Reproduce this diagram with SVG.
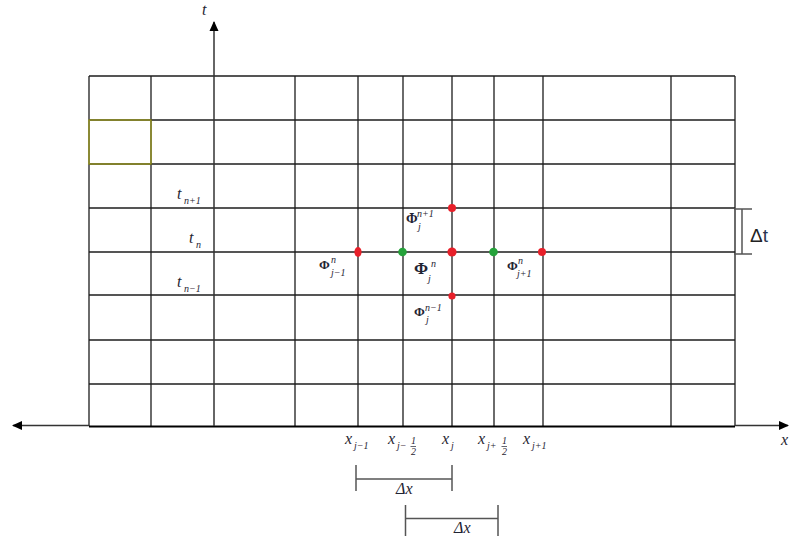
<svg xmlns="http://www.w3.org/2000/svg" width="789" height="543" viewBox="0 0 789 543">
<style>
.g{stroke:#1e1e1e;stroke-width:1.3;fill:none}
.ax{stroke:#333;stroke-width:1.5;fill:none}
.br{stroke:#555;stroke-width:1.5;fill:none}
.m{font-family:"Liberation Serif","DejaVu Serif",serif;font-style:italic;fill:#1f2433}
.mb{font-family:"Liberation Serif","DejaVu Serif",serif;font-weight:bold;fill:#1f2433}
.s{font-family:"Liberation Serif","DejaVu Serif",serif;font-style:italic;fill:#1f2433;font-size:10px}
.r{fill:#e8202a}
.gr{fill:#25a23a}
</style>
<defs>
<marker id="ah" markerWidth="10" markerHeight="10" refX="9" refY="5" orient="auto" markerUnits="userSpaceOnUse">
<path d="M0,0.5 L10,5 L0,9.5 Z" fill="#000"/>
</marker>
</defs>
<g id="grid">
<path class="g" d="M89,76H735M89,120H735M89,164H735M89,208H735M89,252H735M89,295H735M89,340H735M89,384H735"/>
<path class="g" d="M89,76V426M151,76V426M295,76V426M358,76V426M403,76V426M452,76V426M494,76V426M543,76V426M671,76V426M735,76V426"/>
<rect x="89" y="120" width="62" height="44" fill="none" stroke="#9c9a1a" stroke-width="1.3"/>
<path d="M89,426.5H735" stroke="#000" stroke-width="2"/>
</g>
<g id="connectors">
<path class="ax" d="M214,426V22" marker-end="url(#ah)"/>
<path class="ax" d="M89,425.5H13" marker-end="url(#ah)"/>
<path class="ax" d="M735,425.5H788" marker-end="url(#ah)"/>
<path class="br" d="M734,209H752M742,209V254M734,254H752"/>
<path class="br" d="M356,465V491M452,465V491M356,479H452"/>
<path class="br" d="M405.5,505V536M498,505V536M405.5,518.5H498"/>
</g>
<g id="axis-labels">
<text class="m" x="202" y="15" font-size="16">t</text>
<text class="m" x="781" y="445" font-size="16">x</text>
</g>
<g id="t-labels">
<text class="m" x="177" y="199" font-size="16">t</text><text class="s" x="184" y="204">n+1</text>
<text class="m" x="189" y="243" font-size="16">t</text><text class="s" x="196" y="248">n</text>
<text class="m" x="177" y="287" font-size="16">t</text><text class="s" x="184" y="292">n−1</text>
</g>
<g id="dt-label">
<text x="750" y="242" font-family="Liberation Sans,Arial,sans-serif" font-size="19" fill="#222">Δ<tspan fill="#2a3550">t</tspan></text>
</g>
<g id="nodes">
<g id="p-j-n1"><circle class="r" cx="452" cy="208" r="4"/></g>
<g id="p-jm1-n"><ellipse class="r" cx="358" cy="252" rx="3.6" ry="5"/></g>
<g id="p-jmh-n"><circle class="gr" cx="402.5" cy="252" r="4.3"/></g>
<g id="p-j-n"><circle class="r" cx="452" cy="252" r="4.6"/></g>
<g id="p-jph-n"><circle class="gr" cx="493.5" cy="252" r="4.3"/></g>
<g id="p-jp1-n"><circle class="r" cx="542" cy="252" r="4"/></g>
<g id="p-j-nm1"><circle class="r" cx="452" cy="296" r="3.6"/></g>
</g>
<g id="phi-labels">
<text class="mb" x="406" y="223" font-size="14">Φ</text><text class="s" x="417" y="217">n+1</text><text class="s" x="418" y="230">j</text>
<text class="mb" x="319" y="269" font-size="13">Φ</text><text class="s" x="331" y="263">n</text><text class="s" x="331" y="276">j−1</text>
<text class="mb" x="414" y="274" font-size="17">Φ</text><text class="s" x="431" y="267" font-size="11">n</text><text class="s" x="428" y="282" font-size="11">j</text>
<text class="mb" x="414" y="316" font-size="13">Φ</text><text class="s" x="425" y="311">n−1</text><text class="s" x="426" y="323">j</text>
<text class="mb" x="507" y="270" font-size="13">Φ</text><text class="s" x="518" y="264">n</text><text class="s" x="517" y="277">j+1</text>
</g>
<g id="x-labels">
<text class="m" x="345" y="444" font-size="16">x</text><text class="s" x="354" y="449">j−1</text>
<text class="m" x="388" y="444" font-size="16">x</text><text class="s" x="397" y="449">j−</text><text class="s" x="411" y="444" font-size="6.5">1</text><path d="M410.5,446.5H416" stroke="#1f2433" stroke-width="0.7"/><text class="s" x="411" y="455" font-size="6.5">2</text>
<text class="m" x="442" y="444" font-size="16">x</text><text class="s" x="451" y="449">j</text>
<text class="m" x="478" y="444" font-size="16">x</text><text class="s" x="487" y="449">j+</text><text class="s" x="502" y="444" font-size="6.5">1</text><path d="M501.5,446.5H507" stroke="#1f2433" stroke-width="0.7"/><text class="s" x="502" y="455" font-size="6.5">2</text>
<text class="m" x="523" y="444" font-size="16">x</text><text class="s" x="532" y="449">j+1</text>
</g>
<g id="dx-labels">
<text class="m" x="396" y="494" font-size="16">Δx</text>
<text class="m" x="454" y="533" font-size="16">Δx</text>
</g>
</svg>
